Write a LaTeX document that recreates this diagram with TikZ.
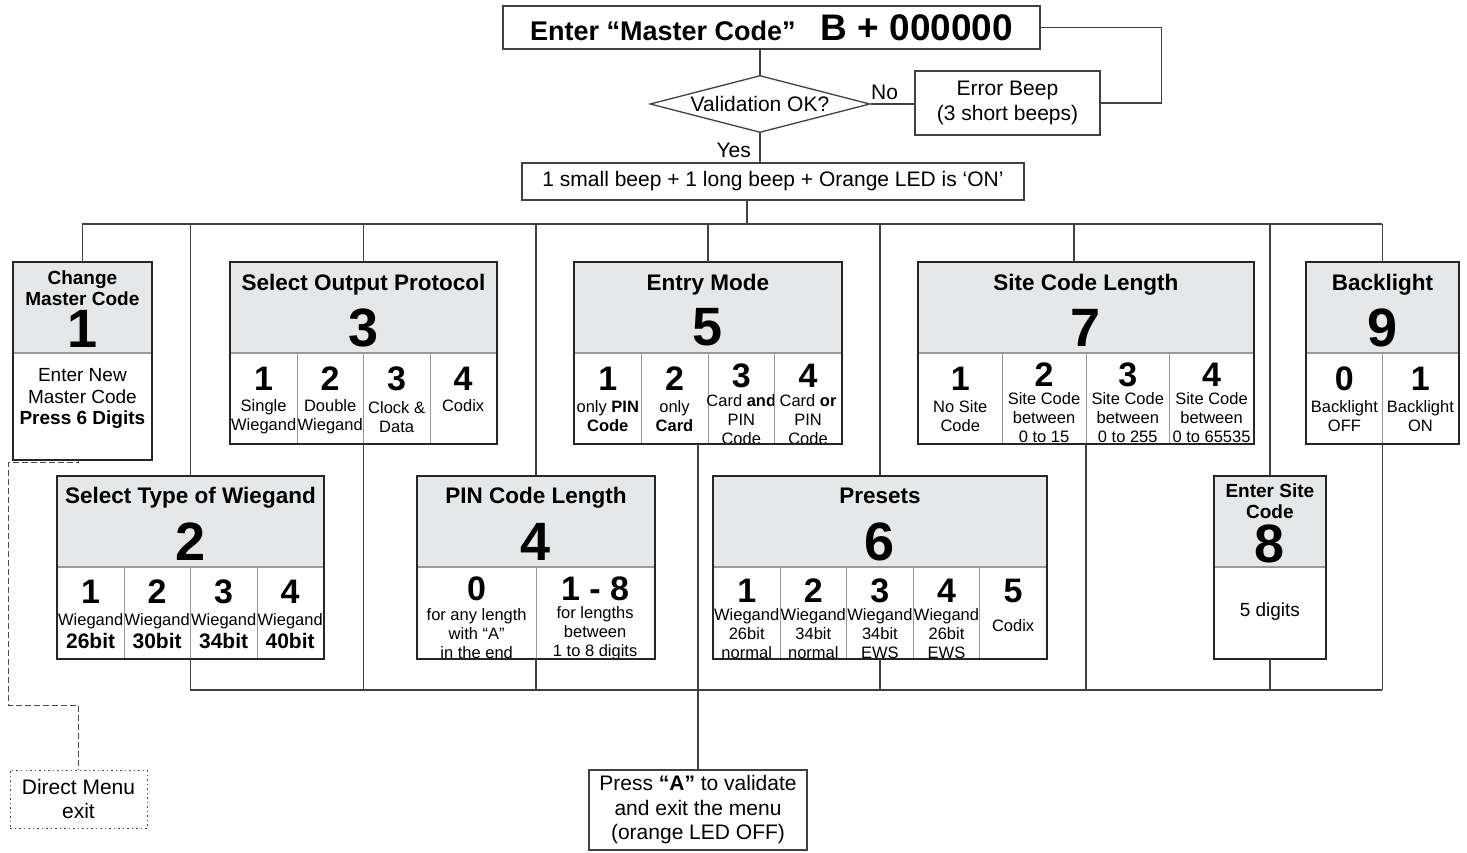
\documentclass[tikz,border=0pt]{standalone}
\usepackage{fontspec}
\setmainfont{Liberation Sans}
\usepackage{tikz}
\usetikzlibrary{calc}
\usetikzlibrary{shapes.geometric}
\definecolor{headgray}{RGB}{230,231,232}
\newcommand{\fsz}[2]{\fontsize{#1}{#2}\selectfont}

\begin{document}
\begin{tikzpicture}[x=1pt, y=-1pt,
    wire/.style={black!75, line width=1.3},
    head/.style={draw=black!40, fill=headgray, line width=0.8, anchor=north west, minimum height=90, inner sep=0pt},
    cell/.style={draw=black!40, fill=white, line width=0.8, anchor=north west, inner sep=0pt},
    frame/.style={draw=black!85, line width=1.8},
    plain/.style={draw=black!75, line width=1.3, fill=white, align=center, inner sep=0pt},
    title/.style={font=\bfseries\fsz{22.5}{25}, anchor=base, inner sep=0pt},
    bignum/.style={font=\bfseries\fsz{54}{54}, anchor=base, inner sep=0pt},
    num/.style={font=\bfseries\fsz{34}{34}, anchor=base, inner sep=0pt},
    txt/.style={font=\fsz{16.5}{19}, align=center, inner sep=0pt},
    big/.style={font=\fsz{21}{24.5}, align=center, inner sep=0pt}]
        \fill[white] (0,0) rectangle (1467,852);
        \useasboundingbox (0,0) rectangle (1467,852);

        \node[plain, font=\bfseries, minimum width=537, minimum height=43] (master) at (771.5,27.5) {\fsz{27}{30}Enter “Master Code”\hspace{25pt}\fsz{37}{40}B + 000000};
        \node[draw=black!75, line width=1.3, shape=diamond, aspect=3.86, inner sep=0pt, minimum width=220, minimum height=57, font=\fsz{21}{24}] (valid) at (760,104) {Validation OK?};
        \node[plain, big, minimum width=185, minimum height=64] (err) at (1007.5,103) {Error Beep\\(3 short beeps)};
        \node[plain, big, minimum width=502, minimum height=37] (led) at (773,181.5) {1 small beep + 1 long beep + Orange LED is ‘ON’};
        \node[big, anchor=south west] (no) at (871,100) {No};
        \node[big, anchor=south east] (yes) at (751,158) {Yes};
        \draw[wire] (master.south -| valid.north) -- (valid.north);
        \draw[wire] (valid.east) -- (valid.east -| err.west);
        \draw[wire] (err.east) -- ++(61,0) |- (master.east);
        \draw[wire] (valid.south) -- (valid.south |- led.north);

        \node[head, minimum width=138] (m1) at (13,262) {};
        \node[font=\bfseries\fsz{19}{21}, align=center, inner sep=0pt] (t1) at ($(m1.north)+(0,26)$) {Change\\Master Code};
        \node[bignum] (n1) at ($(m1.north)+(0,85)$) {1};
        \node[cell, minimum width=138, minimum height=106] (m1-1) at (m1.south west) {};
        \node[font=\fsz{19}{21.5}, align=center, inner sep=0pt] (x1) at ($(m1-1.north)+(0,46)$) {Enter New\\Master Code\\\textbf{Press 6 Digits}};
        \draw[frame] (m1.north west) rectangle (m1-1.south east);

        \node[head, minimum width=266] (m2) at (57,476) {};
        \node[title] (t2) at ($(m2.north)+(0,27)$) {Select Type of Wiegand};
        \node[bignum] (n2) at ($(m2.north)+(0,84)$) {2};
        \foreach \bits [count=\i] in {26,30,34,40} {
            \node[cell, minimum width=66.5, minimum height=91] (m2-\i) at ($(m2.south west)+(66.5*\i-66.5,0)$) {};
            \node[num] (m2-\i-n) at ($(m2-\i.north)+(0,37)$) {\i};
            \node[txt] (m2-\i-t) at ($(m2-\i.north)+(0,64)$) {Wiegand\\[4pt]\textbf{\fsz{21}{21}\bits bit}};
        }
        \draw[frame] (m2.north west) rectangle (m2-4.south east);

        \node[head, minimum width=266] (m3) at (230,262) {};
        \node[title] (t3) at ($(m3.north)+(0,28)$) {Select Output Protocol};
        \node[bignum] (n3) at ($(m3.north)+(0,84)$) {3};
        \foreach \t/\d [count=\i] in {{Single\\Wiegand}/64, {Double\\Wiegand}/64, {Clock \&\\Data}/64, Codix/53} {
            \node[cell, minimum width=66.5, minimum height=90] (m3-\i) at ($(m3.south west)+(66.5*\i-66.5,0)$) {};
            \node[num] (m3-\i-n) at ($(m3-\i.north)+(0,38)$) {\i};
            \node[txt] (m3-\i-t) at ($(m3-\i.north)+(0,\d)$) {\t};
        }
        \draw[frame] (m3.north west) rectangle (m3-4.south east);

        \node[head, minimum width=237] (m4) at (417,476) {};
        \node[title] (t4) at ($(m4.north)+(0,27)$) {PIN Code Length};
        \node[bignum] (n4) at ($(m4.north)+(0,84)$) {4};
        \foreach \n/\t [count=\i] in {0/{for any length\\with “A”\\in the end}, {1 - 8}/{for lengths\\between\\1 to 8 digits}} {
            \node[cell, minimum width=118.5, minimum height=91] (m4-\i) at ($(m4.south west)+(118.5*\i-118.5,0)$) {};
            \node[num] (m4-\i-n) at ($(m4-\i.north)+(0,34)$) {\n};
            \node[txt] (m4-\i-t) at ($(m4-\i.north)+(0,66.5)$) {\t};
        }
        \draw[frame] (m4.north west) rectangle (m4-2.south east);

        \node[head, minimum width=267] (m5) at (574,262) {};
        \node[title] (t5) at ($(m5.north)+(0,28)$) {Entry Mode};
        \node[bignum] (n5) at ($(m5.north)+(0,83)$) {5};
        \foreach \t/\k/\d [count=\i] in {{only \textbf{PIN}\\\textbf{Code}}/38/63, {only\\\textbf{Card}}/38/63, {Card \textbf{and}\\PIN\\Code}/35/67, {Card \textbf{or}\\PIN\\Code}/35/67} {
            \node[cell, minimum width=66.75, minimum height=90] (m5-\i) at ($(m5.south west)+(66.75*\i-66.75,0)$) {};
            \node[num] (m5-\i-n) at ($(m5-\i.north)+(0,\k)$) {\i};
            \node[txt] (m5-\i-t) at ($(m5-\i.north)+(0,\d)$) {\t};
        }
        \draw[frame] (m5.north west) rectangle (m5-4.south east);

        \node[head, minimum width=333] (m6) at (713,476) {};
        \node[title] (t6) at ($(m6.north)+(0,27)$) {Presets};
        \node[bignum] (n6) at ($(m6.north)+(0,84)$) {6};
        \foreach \t/\d [count=\i] in {{Wiegand\\26bit\\normal}/67, {Wiegand\\34bit\\normal}/67, {Wiegand\\34bit\\EWS}/67, {Wiegand\\26bit\\EWS}/67, Codix/59} {
            \node[cell, minimum width=66.6, minimum height=91] (m6-\i) at ($(m6.south west)+(66.6*\i-66.6,0)$) {};
            \node[num] (m6-\i-n) at ($(m6-\i.north)+(0,36)$) {\i};
            \node[txt] (m6-\i-t) at ($(m6-\i.north)+(0,\d)$) {\t};
        }
        \draw[frame] (m6.north west) rectangle (m6-5.south east);

        \node[head, minimum width=335] (m7) at (918,262) {};
        \node[title] (t7) at ($(m7.north)+(0,28)$) {Site Code Length};
        \node[bignum] (n7) at ($(m7.north)+(0,84)$) {7};
        \foreach \t/\k/\d [count=\i] in {{No Site\\Code}/38/63, {Site Code\\between\\0 to 15}/34/65, {Site Code\\between\\0 to 255}/34/65, {Site Code\\between\\0 to 65535}/34/65} {
            \node[cell, minimum width=83.75, minimum height=90] (m7-\i) at ($(m7.south west)+(83.75*\i-83.75,0)$) {};
            \node[num] (m7-\i-n) at ($(m7-\i.north)+(0,\k)$) {\i};
            \node[txt] (m7-\i-t) at ($(m7-\i.north)+(0,\d)$) {\t};
        }
        \draw[frame] (m7.north west) rectangle (m7-4.south east);

        \node[head, minimum width=111] (m8) at (1214,476) {};
        \node[font=\bfseries\fsz{19}{21}, align=center, inner sep=0pt] (t8) at ($(m8.north)+(0,25)$) {Enter Site\\Code};
        \node[bignum] (n8) at ($(m8.north)+(0,86)$) {8};
        \node[cell, minimum width=111, minimum height=91] (m8-1) at (m8.south west) {};
        \node[font=\fsz{19}{21}] (x8) at ($(m8-1.north)+(0,45)$) {5 digits};
        \draw[frame] (m8.north west) rectangle (m8-1.south east);

        \node[head, minimum width=152] (m9) at (1306,262) {};
        \node[title] (t9) at ($(m9.north)+(0,28)$) {Backlight};
        \node[bignum] (n9) at ($(m9.north)+(0,84)$) {9};
        \foreach \n/\t [count=\i] in {0/{Backlight\\OFF}, 1/{Backlight\\ON}} {
            \node[cell, minimum width=76, minimum height=90] (m9-\i) at ($(m9.south west)+(76*\i-76,0)$) {};
            \node[num] (m9-\i-n) at ($(m9-\i.north)+(0,38)$) {\n};
            \node[txt] (m9-\i-t) at ($(m9-\i.north)+(0,63)$) {\t};
        }
        \draw[frame] (m9.north west) rectangle (m9-2.south east);

        \node[plain, big, minimum width=218, minimum height=80] (exit) at (698,810) {Press \textbf{“A”} to validate\\and exit the menu\\(orange LED OFF)};
        \node[big, draw=black!70, line width=1, dash pattern=on 1.5pt off 3pt, minimum width=137, minimum height=58] (dmx) at (78.5,799) {Direct Menu\\exit};

        \coordinate (tb) at (747,224);
        \coordinate (bl) at (190,690);
        \coordinate (m7top) at ([xshift=-12pt]m7.north);
        \draw[wire] (led.south -| tb) -- (tb);
        \draw[wire] (m1.north |- tb) -- (m9.north |- tb);
        \foreach \bx in {m1,m2,m3,m4,m5,m6,m8,m9}
            \draw[wire] (\bx.north |- tb) -- (\bx.north);
        \draw[wire] (m7top |- tb) -- (m7top);
        \draw[wire] (bl) -- (m9.center |- bl);
        \foreach \bx in {m2,m3,m4,m6,m7,m8,m9}
            \draw[wire] (\bx.center |- \bx-1.south) -- (\bx.center |- bl);
        \draw[wire] (exit.north |- m5-1.south) -- (exit.north);
        \draw[black!70, line width=1, dash pattern=on 6pt off 3pt] (dmx.north |- m1-1.south) -- ++(0,3) -| (8,705) -| (dmx.north);
\end{tikzpicture}
\end{document}
